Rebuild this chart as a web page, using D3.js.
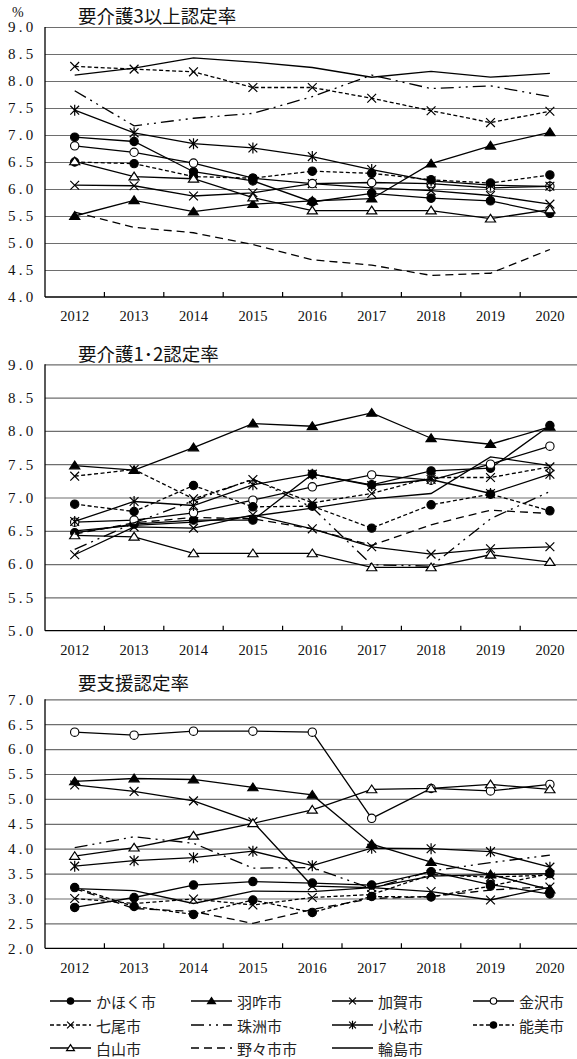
<!DOCTYPE html>
<html><head><meta charset="utf-8">
<script src="https://cdn.jsdelivr.net/npm/d3@7"></script>
<style>html,body{margin:0;padding:0;background:#fff;}svg{display:block;}</style>
</head><body>
<svg id="c" width="577" height="1059"></svg>
<script>
// ---------- data ----------
const years = [2012, 2013, 2014, 2015, 2016, 2017, 2018, 2019, 2020];
const cities = ["かほく市","羽咋市","加賀市","金沢市","七尾市","珠洲市","小松市","能美市","白山市","野々市市","輪島市"];
const titles = ["要介護3以上認定率", "要介護1･2認定率", "要支援認定率"];
const unitLabel = "%";

// 要介護3以上認定率 (series in the order of `cities`)
const care3Values = [
  [6.96, 6.88, 6.32, 6.15, 5.76, 5.92, 5.83, 5.78, 5.55],
  [5.50, 5.79, 5.58, 5.72, 5.78, 5.82, 6.47, 6.80, 7.05],
  [6.07, 6.06, 5.87, 5.93, 6.10, 6.02, 5.97, 5.88, 5.72],
  [6.80, 6.68, 6.48, 6.20, 6.10, 6.12, 6.10, 6.02, 6.05],
  [8.27, 8.22, 8.17, 7.88, 7.88, 7.68, 7.45, 7.23, 7.44],
  [7.82, 7.17, 7.31, 7.40, 7.71, 8.11, 7.86, 7.91, 7.71],
  [7.46, 7.04, 6.84, 6.76, 6.60, 6.36, 6.15, 6.07, 6.05],
  [6.50, 6.47, 6.23, 6.20, 6.33, 6.29, 6.17, 6.11, 6.26],
  [6.51, 6.23, 6.19, 5.84, 5.60, 5.60, 5.60, 5.45, 5.62],
  [5.57, 5.29, 5.19, 4.97, 4.69, 4.59, 4.40, 4.44, 4.88],
  [8.11, 8.24, 8.43, 8.35, 8.25, 8.07, 8.18, 8.07, 8.14]
];
// 要介護1・2認定率
const care12Values = [
  [6.47, 6.60, 6.66, 6.66, 7.35, 7.19, 7.40, 7.44, 8.08],
  [7.48, 7.41, 7.75, 8.11, 8.07, 8.27, 7.89, 7.80, 8.06],
  [6.14, 6.56, 6.54, 6.74, 6.53, 6.26, 6.15, 6.23, 6.26],
  [6.63, 6.66, 6.77, 6.96, 7.16, 7.34, 7.26, 7.50, 7.77],
  [7.32, 7.42, 6.98, 7.27, 6.92, 7.06, 7.30, 7.30, 7.46],
  [6.22, 6.62, 6.95, 7.28, 6.85, 5.99, 5.97, 6.68, 7.09],
  [6.64, 6.94, 6.88, 7.19, 7.35, 7.18, 7.27, 7.06, 7.35],
  [6.90, 6.79, 7.18, 6.86, 6.87, 6.54, 6.89, 7.05, 6.80],
  [6.43, 6.41, 6.16, 6.16, 6.16, 5.95, 5.95, 6.14, 6.03],
  [6.45, 6.62, 6.70, 6.68, 6.53, 6.28, 6.59, 6.81, 6.76],
  [6.50, 6.58, 6.63, 6.72, 6.84, 6.98, 7.06, 7.61, 7.48]
];
// 要支援認定率
const supportValues = [
  [2.82, 3.02, 3.27, 3.34, 3.31, 3.27, 3.54, 3.28, 3.09],
  [5.35, 5.41, 5.39, 5.23, 5.08, 4.09, 3.73, 3.48, 3.18],
  [5.28, 5.15, 4.96, 4.54, 3.25, 3.22, 3.14, 2.97, 3.23],
  [6.34, 6.28, 6.36, 6.36, 6.34, 4.61, 5.21, 5.16, 5.29],
  [3.00, 2.90, 2.99, 2.87, 3.02, 3.08, 3.48, 3.43, 3.47],
  [4.02, 4.24, 4.11, 3.61, 3.62, 3.20, 3.55, 3.72, 3.87],
  [3.65, 3.76, 3.82, 3.95, 3.66, 4.01, 4.00, 3.94, 3.63],
  [3.22, 2.84, 2.68, 2.97, 2.72, 3.04, 3.03, 3.25, 3.50],
  [3.85, 4.02, 4.26, 4.51, 4.78, 5.19, 5.21, 5.29, 5.19],
  [3.20, 2.80, 2.74, 2.50, 2.78, 3.00, 3.04, 3.17, 3.24],
  [3.20, 3.16, 2.90, 3.15, 3.14, 3.22, 3.45, 3.48, 3.50]
];
const care3Ticks = [4.0, 4.5, 5.0, 5.5, 6.0, 6.5, 7.0, 7.5, 8.0, 8.5, 9.0];
const care12Ticks = [5.0, 5.5, 6.0, 6.5, 7.0, 7.5, 8.0, 8.5, 9.0];
const supportTicks = [2.0, 2.5, 3.0, 3.5, 4.0, 4.5, 5.0, 5.5, 6.0, 6.5, 7.0];

// ---------- styles (per city, same order) ----------
const markerTypes = ["circleFilled","triFilled","times","circleOpen","times","none","asterisk","circleFilled","triOpen","none","none"];
const dashTypes   = [null, null, null, null, "4,2.5", "13,5,2,5,2,5", null, "4,2.5", null, "8,5", null];

// ---------- layout ----------
const W = 577, left = 45, right = 579.6;
const jpFont = "'Noto Sans CJK JP', 'Noto Sans', sans-serif";
const numFont = "'Liberation Serif', 'DejaVu Serif', serif";
const svg = d3.select("#c");

const x = d3.scaleBand().domain(years).range([left, right]).padding(0);
const cx = d => x(d) + x.bandwidth() / 2;

const panels = [
  {title: titles[0], values: care3Values, domain: [4, 9], ticks: care3Ticks, top: 27, bottom: 297, titleY: 15, unit: true},
  {title: titles[1], values: care12Values, domain: [5, 9], ticks: care12Ticks, top: 364.3, bottom: 630.7, titleY: 352.5},
  {title: titles[2], values: supportValues, domain: [2, 7], ticks: supportTicks, top: 699.3, bottom: 948.3, titleY: 682}
];

function markerPath(type, s) {
  switch (type) {
    case "triFilled": case "triOpen":
      return `M0,${-s*1.0}L${s*1.15},${s*0.75}L${-s*1.15},${s*0.75}Z`;
    case "times":
      return `M${-s},${-s}L${s},${s}M${-s},${s}L${s},${-s}`;
    case "asterisk":
      return `M${-s},${-s}L${s},${s}M${-s},${s}L${s},${-s}M0,${-s*1.25}L0,${s*1.25}`;
  }
  return null;
}
function drawMarkers(g, type, pts, s) {
  if (type === "none") return;
  if (type === "circleFilled" || type === "circleOpen") {
    g.selectAll(null).data(pts).join("circle")
      .attr("cx", d => d[0]).attr("cy", d => d[1]).attr("r", s * 0.95)
      .attr("fill", type === "circleFilled" ? "#000" : "#fff")
      .attr("stroke", "#000").attr("stroke-width", 1.1);
  } else {
    const filled = type === "triFilled", open = type === "triOpen";
    g.selectAll(null).data(pts).join("path")
      .attr("transform", d => `translate(${d[0]},${d[1]})`)
      .attr("d", markerPath(type, s))
      .attr("fill", filled ? "#000" : (open ? "#fff" : "none"))
      .attr("stroke", "#000").attr("stroke-width", 1.2);
  }
}

panels.forEach(p => {
  const y = d3.scaleLinear().domain(p.domain).range([p.bottom, p.top]);
  const g = svg.append("g");

  // gridlines
  const grid = g.append("g").attr("transform", `translate(${left},0)`)
    .call(d3.axisLeft(y).tickValues(p.ticks.filter(t => t !== p.domain[0])).tickSize(-(W - left + 10)).tickFormat(""));
  grid.select(".domain").remove();
  grid.selectAll("line").attr("stroke", "#6e6e6e").attr("stroke-width", 1.2);

  // y labels
  const yl = g.append("g").attr("transform", `translate(${left},0)`)
    .call(d3.axisLeft(y).tickValues(p.ticks).tickSize(0).tickFormat(d3.format(".1f")));
  yl.select(".domain").remove();
  yl.selectAll("text").attr("x", 8 - left).attr("text-anchor", "start")
    .attr("font-family", numFont).attr("font-size", 15).attr("letter-spacing", 3.2).attr("fill", "#111");

  // left axis line
  g.append("line").attr("x1", left).attr("x2", left).attr("y1", p.top).attr("y2", p.bottom)
    .attr("stroke", "#000").attr("stroke-width", 1.3);

  // bottom axis
  const xa = g.append("g").attr("transform", `translate(0,${p.bottom})`)
    .call(d3.axisBottom(x).tickSize(0).tickPadding(14));
  xa.select(".domain").attr("d", `M${left},0H${W + 5}`).attr("stroke", "#000").attr("stroke-width", 1.3);
  xa.selectAll("text").attr("font-family", numFont).attr("font-size", 14.5).attr("fill", "#111");
  // boundary ticks (inside, upward)
  g.selectAll(null).data(years.slice(1)).join("line")
    .attr("x1", d => x(d)).attr("x2", d => x(d))
    .attr("y1", p.bottom).attr("y2", p.bottom - 5)
    .attr("stroke", "#000").attr("stroke-width", 1.2);

  // title
  g.append("text").attr("x", 78).attr("y", p.titleY).attr("dominant-baseline", "central")
    .attr("font-family", jpFont).attr("font-size", 18.5).attr("fill", "#111").text(p.title);
  if (p.unit) {
    g.append("text").attr("x", 12).attr("y", 12).attr("dominant-baseline", "central")
      .attr("font-family", numFont).attr("font-size", 14).attr("fill", "#111").text(unitLabel);
  }

  // series
  const line = d3.line().x((d, i) => cx(years[i])).y(d => y(d));
  p.values.forEach((vals, si) => {
    const sg = g.append("g");
    sg.append("path").attr("d", line(vals)).attr("fill", "none")
      .attr("stroke", "#000").attr("stroke-width", 1.3)
      .attr("stroke-dasharray", dashTypes[si]);
    drawMarkers(sg, markerTypes[si], vals.map((v, i) => [cx(years[i]), y(v)]), 4.4);
  });
});

// ---------- legend ----------
const colX = [50, 191, 332, 473];
const rowY = [1001, 1025, 1048];
const lg = svg.append("g");
cities.forEach((c, i) => {
  const lx = colX[i % 4], ly = rowY[Math.floor(i / 4)];
  const it = lg.append("g");
  it.append("line").attr("x1", lx).attr("x2", lx + 41).attr("y1", ly).attr("y2", ly)
    .attr("stroke", "#000").attr("stroke-width", 1.3).attr("stroke-dasharray", dashTypes[i]);
  drawMarkers(it, markerTypes[i], [[lx + 20.5, ly]], 3.4);
  it.append("text").attr("x", lx + 46).attr("y", ly).attr("dominant-baseline", "central")
    .attr("font-family", jpFont).attr("font-size", 15).attr("fill", "#222").text(c);
});
</script>
</body></html>
